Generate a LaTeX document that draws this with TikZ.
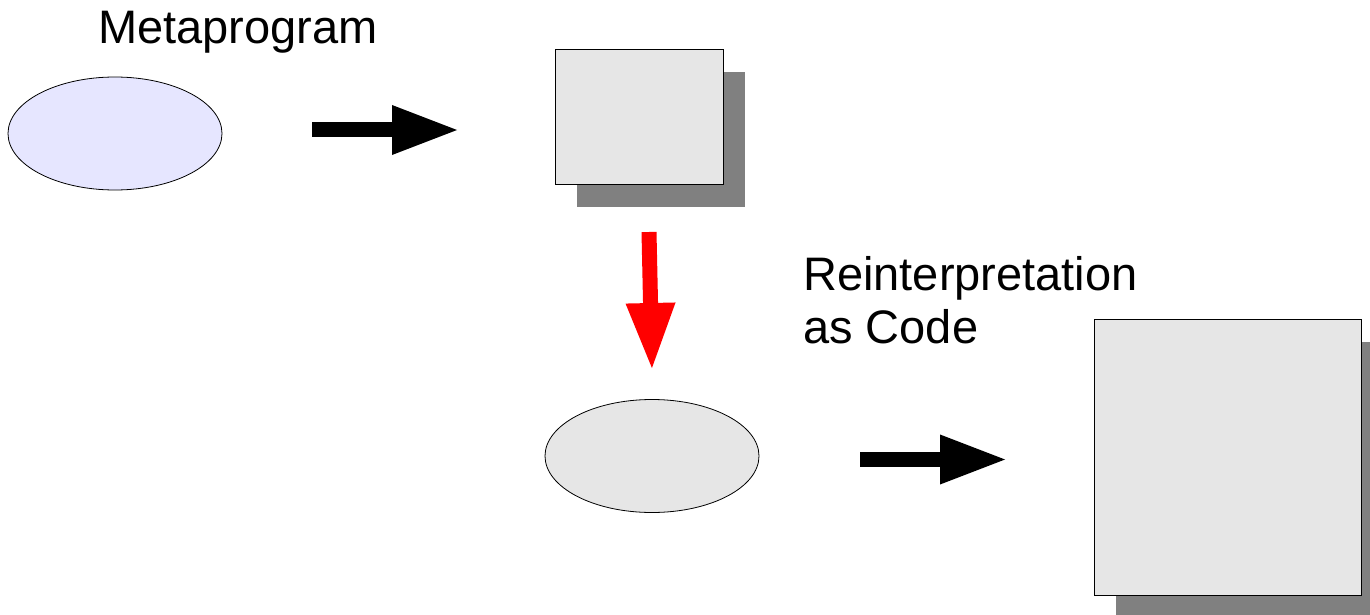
\documentclass[tikz,border=0pt]{standalone}
\usepackage{fontspec}
\setmainfont{Liberation Sans}
\usetikzlibrary{arrows.meta,shapes.geometric,shadows}
\definecolor{lavender}{RGB}{230,230,255}
\definecolor{lightgray}{RGB}{230,230,230}
\definecolor{shadowgray}{RGB}{128,128,128}

\begin{document}
\begin{tikzpicture}[x=1pt,y=-1pt,
    blob/.style={ellipse,draw,line width=0.8pt,inner sep=0pt,minimum width=214pt,minimum height=113pt},
    card/.style={rectangle,draw,line width=0.8pt,fill=lightgray,inner sep=0pt,
      drop shadow={shadow xshift=22pt,shadow yshift=-23pt,fill=shadowgray,opacity=1}},
    bigarrow/.style={line width=15pt,-{Triangle[length=68pt,width=45pt]}},
    lbl/.style={inner sep=0pt,anchor=base west,font=\fontsize{47}{53}\selectfont}]
    \useasboundingbox (0,0) rectangle (1370,615);
    \node[blob,fill=lavender] (meta) at (115,133.5){};
    \node[card,minimum width=168pt,minimum height=135pt] (data) at (639,116.5){};
    \node[blob,fill=lightgray] (code) at (652,456){};
    \node[card,minimum width=267pt,minimum height=276pt] (result) at (1227.5,457){};
    \node[lbl] (metalbl) at (98,44){Metaprogram};
    \node[lbl] (reint) at (803,290){Reinterpretation};
    \node[lbl] (ascode) at (803,343){as Code};
    % arrow ends
    \coordinate (genfrom) at (312,130);
    \coordinate (gento) at (460,130);
    \coordinate (reifrom) at (649,232);
    \coordinate (reito) at (652,371);
    \coordinate (runfrom) at (860,459.5);
    \coordinate (runto) at (1008,459.5);
    \draw[bigarrow] (genfrom)--(gento);
    \draw[bigarrow,red] (reifrom)--(reito);
    \draw[bigarrow] (runfrom)--(runto);
\end{tikzpicture}
\end{document}
